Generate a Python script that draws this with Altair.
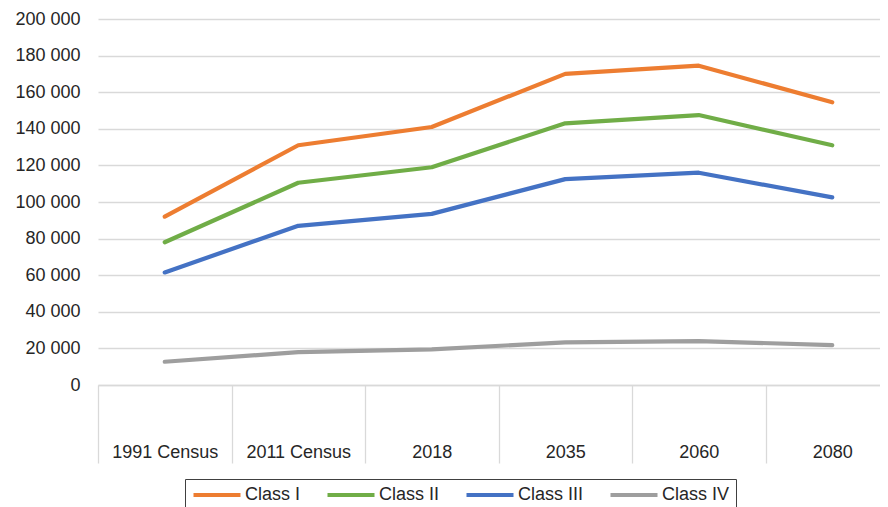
import json
import altair as alt
import pandas as pd

categories = ["1991 Census", "2011 Census", "2018", "2035", "2060", "2080"]
series_names = ["Class I", "Class II", "Class III", "Class IV"]
class_i = [92000, 131000, 141000, 170000, 174500, 154500]
class_ii = [78000, 110500, 119000, 143000, 147500, 131000]
class_iii = [61500, 87000, 93500, 112500, 116000, 102500]
class_iv = [12700, 18000, 19500, 23300, 24000, 21800]
y_ticks = [0, 20000, 40000, 60000, 80000, 100000, 120000, 140000, 160000, 180000, 200000]

colors = ["#ED7D31", "#70AD47", "#4472C4", "#9E9E9E"]
widths = [4.2, 4.2, 4.2, 2.6]

rows = []
for name, vals in zip(series_names, [class_i, class_ii, class_iii, class_iv]):
    for i, (cat, v) in enumerate(zip(categories, vals)):
        rows.append({"series": name, "idx": i, "category": cat, "value": v})
df = pd.DataFrame(rows)

FONT = "Liberation Sans"
W = 782
band = 133.5
x_max = W / band - 0.5

cat_js = json.dumps(categories)

legend = alt.Legend(
    title=None, orient="none", legendX=87, legendY=460, direction="horizontal",
    symbolType="stroke", symbolSize=2209, clipHeight=20, labelFont=FONT, labelFontSize=18,
    labelColor="#262626", labelOffset=2, columnPadding=24, padding=6,
    strokeColor="#404040", fillColor="white",
)

chart = alt.Chart(df).mark_line(strokeCap="round", strokeJoin="round").encode(
    x=alt.X("idx:Q",
            scale=alt.Scale(domain=[-0.5, x_max], nice=False, zero=False),
            axis=alt.Axis(title=None, values=[-0.5, 0.5, 1.5, 2.5, 3.5, 4.5],
                          labelExpr=f"{cat_js}[datum.value + 0.5]",
                          labelOffset=band / 2, tickSize=78, tickColor="#d9d9d9",
                          tickWidth=1.3, domainColor="#d9d9d9", domainWidth=1.3,
                          grid=False, labelPadding=-20, labelFont=FONT,
                          labelFontSize=18, labelColor="#262626",
                          labelAlign="center", labelBaseline="top")),
    y=alt.Y("value:Q",
            scale=alt.Scale(domain=[0, 200000], nice=False),
            axis=alt.Axis(title=None, values=y_ticks, domain=False, ticks=False,
                          labelExpr="replace(format(datum.value, ','), /,/g, ' ')",
                          labelPadding=18, labelFont=FONT, labelFontSize=18,
                          labelColor="#262626", gridColor="#d9d9d9", gridWidth=1.3)),
    color=alt.Color("series:N", scale=alt.Scale(domain=series_names, range=colors),
                    sort=series_names, legend=legend),
    strokeWidth=alt.StrokeWidth("series:N",
                                scale=alt.Scale(domain=series_names, range=widths),
                                sort=series_names, legend=legend),
).properties(
    width=W, height=366,
    autosize=alt.AutoSizeParams(type="none"),
    padding={"left": 90, "top": 11, "right": 0, "bottom": 122},
).configure_view(stroke=None)

chart.save("out.html", embed_options={"renderer": "svg", "actions": False})
